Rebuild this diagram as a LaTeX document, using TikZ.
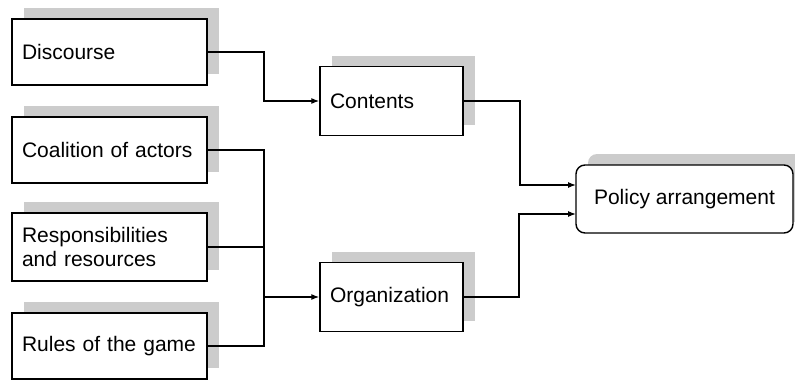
\documentclass[tikz,border=0pt]{standalone}
\usepackage{fontspec}
\setmainfont{Liberation Sans}
\usetikzlibrary{arrows.meta,shadows}
\definecolor{shadowgray}{HTML}{CCCCCC}
\tikzset{
  box/.style={draw=black, line width=1.4pt, fill=white, align=left,
    inner xsep=10pt, inner ysep=0pt,
    font=\fontsize{21}{24}\selectfont,
    general shadow={fill=shadowgray, shadow xshift=12pt, shadow yshift=11pt}},
  leftbox/.style={box, minimum width=195pt, text width=175pt, minimum height=66pt},
  midbox/.style={box, minimum width=143pt, text width=123pt, minimum height=69pt},
  roundbox/.style={box, align=center, rounded corners=9pt, minimum width=217pt, minimum height=68pt},
  conn/.style={line width=1.2pt, draw=black},
  arr/.style={conn, -{Latex[length=8pt,width=6pt]}}
}
\begin{document}
\begin{tikzpicture}[x=1pt,y=-1pt]
\useasboundingbox (0,0) rectangle (795,380);
\clip (0,0) rectangle (795,380);
\node[leftbox] (disc) at (109.5,52) {Discourse};
\node[leftbox] (coal) at (109.5,150) {Coalition of actors};
\node[leftbox, minimum height=68pt] (resp) at (109.5,247) {Responsibilities\\and resources};
\node[leftbox] (rules) at (109.5,346) {Rules of the game};
\node[midbox] (cont) at (391.5,101) {Contents};
\node[midbox] (org) at (391.5,297) {Organization};
\node[roundbox] (pol) at (684.5,199) {Policy arrangement};

\coordinate (k0) at (264,101);
\coordinate (bus) at (264,297);
\coordinate (k1) at (520,185);
\coordinate (p1) at (576,185);
\coordinate (k2) at (519,214);
\coordinate (p2) at (576,214);

\draw[arr] (disc.east) -| (k0) -- (cont.west);
\draw[conn] (coal.east) -- (coal.east -| bus) -- (rules.east -| bus) -- (rules.east);
\draw[conn] (resp.east) -- (resp.east -| bus);
\draw[arr] (bus) -- (org.west);
\draw[arr] (cont.east) -| (k1) -- (p1);
\draw[arr] (org.east) -| (k2) -- (p2);
\end{tikzpicture}
\end{document}
